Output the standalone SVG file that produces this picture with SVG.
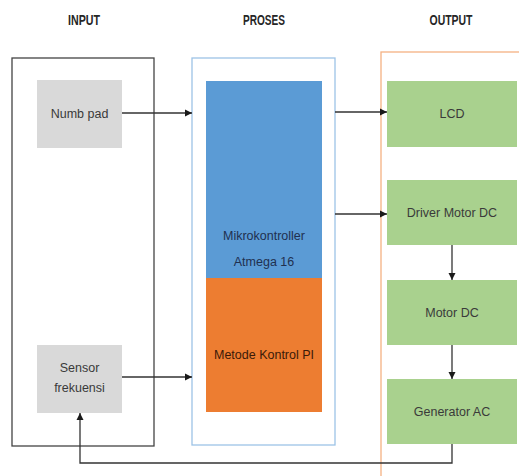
<svg xmlns="http://www.w3.org/2000/svg" width="519" height="476" viewBox="0 0 519 476">
<defs>
<marker id="ah" markerWidth="8" markerHeight="8" refX="7" refY="4" orient="auto" markerUnits="userSpaceOnUse">
<path d="M0,0.5 L7,4 L0,7.5 Z" fill="#1a1a1a"/>
</marker>
<style>
.t{font-family:"Liberation Sans",Arial,sans-serif;font-size:12.5px;fill:#3a3a3a;text-anchor:middle}
.h{font-family:"Liberation Sans",Arial,sans-serif;font-size:14px;font-weight:bold;fill:#262626;text-anchor:middle}
.c{fill:none;stroke:#333;stroke-width:1.3}
.g{fill:#a9d18e}
</style>
</defs>
<rect width="519" height="476" fill="#fff"/>
<g id="titles">
<text class="h" x="84" y="25" textLength="32" lengthAdjust="spacingAndGlyphs">INPUT</text>
<text class="h" x="264" y="25" textLength="42" lengthAdjust="spacingAndGlyphs">PROSES</text>
<text class="h" x="451" y="25" textLength="43" lengthAdjust="spacingAndGlyphs">OUTPUT</text>
</g>
<g id="input">
<rect x="12" y="58" width="142" height="388" fill="none" stroke="#444" stroke-width="1.3"/>
</g>
<g id="proses">
<rect x="192" y="58" width="143" height="387" fill="none" stroke="#9dc3e6" stroke-width="1.3"/>
</g>
<g id="output">
<rect x="381" y="52" width="150" height="440" fill="none" stroke="#f4b183" stroke-width="1.3"/>
</g>
<g id="numbpad">
<rect x="37" y="80" width="85" height="68" fill="#d9d9d9"/>
<text class="t" x="79.5" y="118">Numb pad</text>
</g>
<g id="sensor">
<rect x="37" y="345" width="85" height="68" fill="#d9d9d9"/>
<text class="t" x="79.5" y="372">Sensor</text>
<text class="t" x="79.5" y="392">frekuensi</text>
</g>
<g id="mikro">
<rect x="206" y="81" width="116" height="197" fill="#5b9bd5"/>
<text class="t" x="264" y="240" style="fill:#1f3050">Mikrokontroller</text>
<text class="t" x="264" y="266" style="fill:#1f3050">Atmega 16</text>
</g>
<g id="metode">
<rect x="206" y="278" width="116" height="134" fill="#ed7d31"/>
<text class="t" x="264" y="359" style="fill:#3a1a08">Metode Kontrol PI</text>
</g>
<g id="lcd">
<rect class="g" x="387" y="81" width="130" height="66"/>
<text class="t" x="452" y="118">LCD</text>
</g>
<g id="driver">
<rect class="g" x="387" y="180" width="130" height="65"/>
<text class="t" x="452" y="217">Driver Motor DC</text>
</g>
<g id="motor">
<rect class="g" x="387" y="280" width="130" height="65"/>
<text class="t" x="452" y="317">Motor DC</text>
</g>
<g id="generator">
<rect class="g" x="387" y="379" width="130" height="65"/>
<text class="t" x="452" y="416">Generator AC</text>
</g>
<g id="connectors">
<path class="c" d="M122,113 H192" marker-end="url(#ah)"/>
<path class="c" d="M122,377 H192" marker-end="url(#ah)"/>
<path class="c" d="M335,112 H387" marker-end="url(#ah)"/>
<path class="c" d="M335,214 H387" marker-end="url(#ah)"/>
<path class="c" d="M452,245 V280" marker-end="url(#ah)"/>
<path class="c" d="M452,345 V379" marker-end="url(#ah)"/>
<path class="c" d="M452,444 V463 H80 V413" marker-end="url(#ah)"/>
</g>
</svg>
